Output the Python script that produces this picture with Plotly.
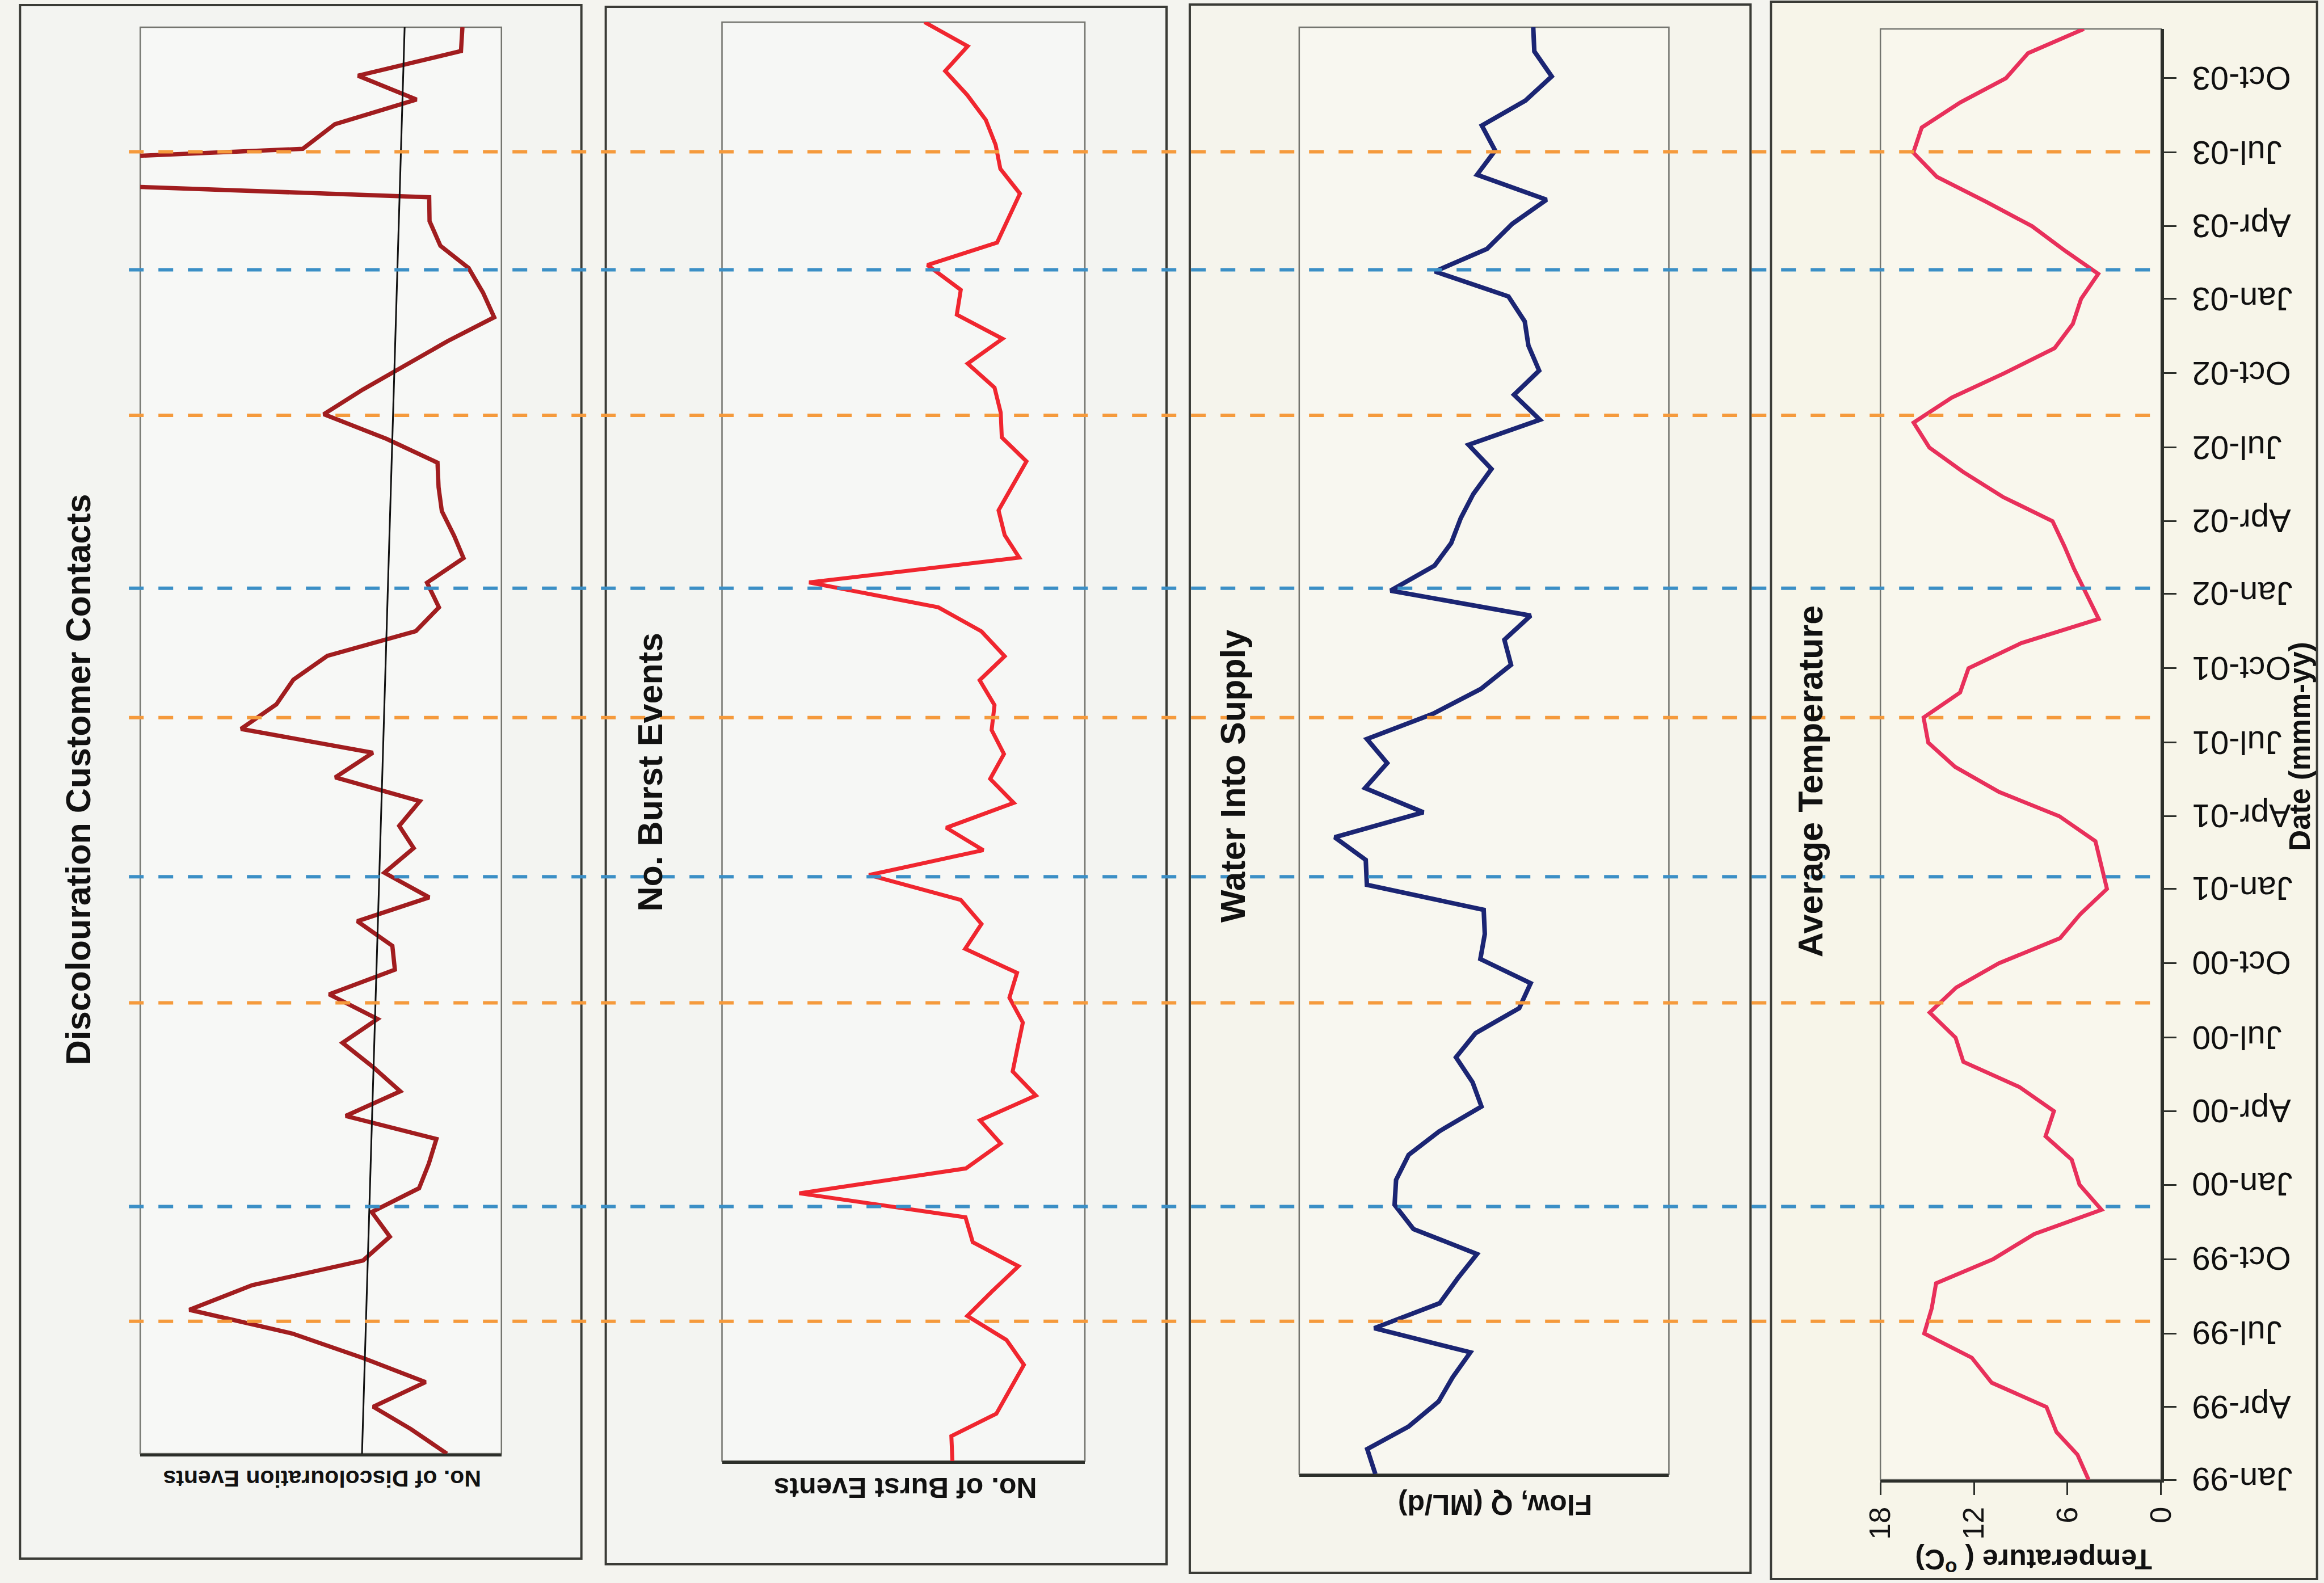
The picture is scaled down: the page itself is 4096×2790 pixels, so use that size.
import plotly.graph_objects as go
import pandas as pd

W, H = 4096, 2790

# Monthly observations, Jan-1999 .. Dec-2003
months = pd.date_range("1999-01-01", "2003-12-01", freq="MS")

discolouration = [15.1, 25.1, 35.5, 21.0, 38.1, 57.8, 86.4, 69.0, 38.3, 30.9,
                  35.9, 22.8, 20.1, 18.0, 43.1, 28.0, 35.4, 44.0, 34.3, 47.7,
                  29.5, 30.2, 39.9, 20.0, 32.4, 24.3, 28.3, 22.6, 46.0, 35.6,
                  72.1, 62.3, 57.6, 48.2, 23.7, 17.3, 20.6, 10.5, 13.1, 16.5,
                  17.4, 17.7, 31.8, 49.2, 38.4, 26.7, 14.9, 2.0, 5.1, 9.1,
                  16.9, 19.9, 20.0, 210.0, 55.0, 46.1, 23.5, 39.7, 11.2, 10.8]
discolouration_trend = [38.6, 26.8]

bursts = [36.5, 36.8, 24.4, 20.6, 16.8, 21.6, 32.4, 25.5, 18.3, 30.9,
          32.9, 78.7, 32.8, 23.2, 28.9, 13.5, 19.9, 18.5, 17.1, 20.8,
          18.7, 33.0, 28.5, 34.2, 59.5, 28.0, 38.2, 19.6, 26.1, 22.3,
          25.7, 24.9, 29.0, 22.1, 28.5, 40.4, 76.0, 18.1, 22.1, 23.8,
          19.9, 16.1, 22.9, 23.2, 24.9, 32.3, 22.7, 35.3, 34.2, 43.4,
          24.2, 21.0, 17.9, 23.3, 24.6, 27.3, 32.4, 38.5, 32.3, 44.2]

flow = [79.4, 81.6, 70.4, 62.3, 58.5, 53.7, 79.7, 62.0, 57.1, 51.9,
        69.1, 74.2, 73.8, 70.4, 62.2, 50.7, 53.1, 57.6, 52.3, 40.5,
        37.4, 51.0, 49.8, 50.1, 81.7, 82.0, 90.4, 66.4, 82.2, 76.2,
        81.7, 63.9, 50.9, 42.7, 44.5, 37.4, 75.3, 63.4, 58.9, 56.3,
        52.9, 48.0, 54.2, 34.9, 41.9, 35.1, 38.0, 39.0, 43.4, 63.3,
        49.2, 42.4, 33.1, 51.9, 47.0, 50.6, 38.8, 31.7, 36.4, 36.7]

temperature = [4.65, 5.36, 6.71, 7.35, 10.86, 12.14, 15.19, 14.71, 14.43, 10.76,
               8.13, 3.82, 5.23, 5.73, 7.41, 6.87, 9.09, 12.68, 13.18, 14.84,
               13.14, 10.40, 6.48, 5.17, 3.47, 3.84, 4.21, 6.53, 10.39, 13.21,
               14.93, 15.23, 12.89, 12.35, 8.98, 4.00, 4.82, 5.58, 6.20, 6.96,
               10.15, 12.70, 14.86, 15.87, 13.41, 10.06, 6.83, 5.66, 5.13, 4.03,
               6.12, 8.28, 11.20, 14.38, 15.89, 15.35, 12.88, 9.95, 8.53, 4.95]
temperature_ticks = [0, 6, 12, 18]

quarter_ticks = pd.date_range("1999-01-01", "2003-10-01", freq="QS")
quarter_labels = [d.strftime("%b-%y") for d in quarter_ticks]

# summer peaks / winter troughs of the temperature record
summer_lines = ["1999-07-16", "2000-08-13", "2001-08-01", "2002-08-10", "2003-07-02"]
winter_lines = ["1999-12-05", "2001-01-16", "2002-01-08", "2003-02-06"]

titles = ["Discolouration Customer Contacts", "No. Burst Events",
          "Water Into Supply", "Average Temperature"]
axis_titles = ["No. of Discolouration Events", "No. of Burst Events",
               "Flow, Q (ML/d)", "Temperature ( <sup>o</sup>C)"]

FONT = "Liberation Sans, Arial, sans-serif"
DARK = "#2c2f2a"


def sx(p):
    """horizontal pixel -> paper fraction (slightly spread about the centre)"""
    return (2048 + (p - 2048) * 1.0137) / W


def sy(p):
    return 1 - p / H


# pixel geometry of the four stacked chart boxes
outer_boxes = [(33, 9, 1023, 2747), (1066, 12, 2055, 2757),
               (2096, 8, 3085, 2772), (3121, 3, 4084, 2783)]
inner_boxes = [(245, 48, 882, 2562), (1271, 39, 1911, 2575),
               (2289, 48, 2941, 2598), (3314, 51, 3809, 2608)]
outer_fill = ["#f3f4f1", "#f3f4f1", "#f5f4ec", "#f7f5e9"]
inner_fill = ["#f7f8f6", "#f6f7f5", "#f8f7f0", "#f9f7ed"]

series = [discolouration, bursts, flow, temperature]
colors = ["#a11d1f", "#f0262f", "#1b2573", "#e8305b"]
widths = [7.5, 7, 8, 7]
x_ranges = [[100, 0], [100, 0], [100, 0], [18, 0]]

title_pos = [(136, 1374), (1144, 1361), (2172, 1368), (3191, 1377)]
axis_title_pos = [(566, 2606), (1594, 2622), (2634, 2652), (3584, 2752)]
axis_title_size = [41, 50, 50, 50]

fig = go.Figure()
shapes = []
annotations = []
layout = dict(width=W, height=H, margin=dict(l=0, r=0, t=0, b=0),
              paper_bgcolor="#f4f4ef", plot_bgcolor="rgba(0,0,0,0)",
              showlegend=False, font=dict(family=FONT, color="#111"))

for i in range(4):
    n = "" if i == 0 else str(i + 1)
    xa, ya = "x" + n, "y" + n
    ox0, oy0, ox1, oy1 = outer_boxes[i]
    ix0, iy0, ix1, iy1 = inner_boxes[i]

    shapes.append(dict(type="rect", xref="paper", yref="paper", layer="below",
                       x0=sx(ox0), x1=sx(ox1), y0=sy(oy1), y1=sy(oy0),
                       fillcolor=outer_fill[i], line=dict(color="#3a3b36", width=4)))
    shapes.append(dict(type="rect", xref="paper", yref="paper", layer="below",
                       x0=sx(ix0), x1=sx(ix1), y0=sy(iy1), y1=sy(iy0),
                       fillcolor=inner_fill[i], line=dict(color="#74756f", width=2.5)))

    fig.add_trace(go.Scatter(x=series[i], y=months, mode="lines",
                             line=dict(color=colors[i], width=widths[i]),
                             xaxis=xa, yaxis=ya, hoverinfo="skip"))

    is_temp = i == 3
    layout["xaxis" + n] = dict(
        domain=[sx(ix0), sx(ix1)], range=x_ranges[i], anchor=ya,
        showgrid=False, zeroline=False, showline=True, linecolor=DARK, linewidth=5,
        ticks="outside" if is_temp else "", ticklen=22, tickwidth=3, tickcolor=DARK,
        tickvals=temperature_ticks if is_temp else None,
        showticklabels=is_temp, tickangle=-90,
        tickfont=dict(size=52, color="#141414", family=FONT))
    layout["yaxis" + n] = dict(
        domain=[sy(iy1), sy(iy0)], type="date",
        range=[months[0], months[-1]], anchor=xa,
        side="right", showgrid=False, zeroline=False,
        showline=is_temp, linecolor=DARK, linewidth=5,
        ticks="outside" if is_temp else "", ticklen=22, tickwidth=3, tickcolor=DARK,
        tickvals=list(quarter_ticks) if is_temp else None,
        showticklabels=False)

    annotations.append(dict(text="<b>%s</b>" % titles[i],
                            x=sx(title_pos[i][0]), y=sy(title_pos[i][1]),
                            xref="paper", yref="paper", xanchor="center", yanchor="middle",
                            textangle=-90, showarrow=False,
                            font=dict(size=61, color="#111", family=FONT)))
    annotations.append(dict(text="<b>%s</b>" % axis_titles[i],
                            x=sx(axis_title_pos[i][0]), y=sy(axis_title_pos[i][1]),
                            xref="paper", yref="paper", xanchor="center", yanchor="middle",
                            textangle=180, showarrow=False,
                            font=dict(size=axis_title_size[i], color="#111", family=FONT)))

# linear trend through the discolouration series
fig.add_trace(go.Scatter(x=discolouration_trend, y=[months[0], months[-1]], mode="lines",
                         line=dict(color="#111", width=3), xaxis="x", yaxis="y",
                         hoverinfo="skip"))

# seasonal reference lines running across all four panels
for d in summer_lines:
    shapes.append(dict(type="line", xref="paper", yref="y4", x0=sx(225), x1=sx(3801),
                       y0=d, y1=d, layer="above",
                       line=dict(color="#f59a3c", width=6, dash="26px,26px")))
for d in winter_lines:
    shapes.append(dict(type="line", xref="paper", yref="y4", x0=sx(225), x1=sx(3801),
                       y0=d, y1=d, layer="above",
                       line=dict(color="#3b8fc6", width=6, dash="26px,26px")))

# date labels, printed upside-down beside the temperature date axis
for d, lab in zip(quarter_ticks, quarter_labels):
    annotations.append(dict(text=lab, x=sx(3862), y=d, xref="paper", yref="y4",
                            xanchor="left", yanchor="middle", textangle=180,
                            showarrow=False, font=dict(size=58, color="#101010", family=FONT)))

annotations.append(dict(text="<b>Date (mmm-yy)</b>", x=sx(4054), y=sy(1316),
                        xref="paper", yref="paper", xanchor="center", yanchor="middle",
                        textangle=-90, showarrow=False,
                        font=dict(size=51, color="#111", family=FONT)))

layout["shapes"] = shapes
layout["annotations"] = annotations
fig.update_layout(**layout)

fig.write_html("out.html", config={"displayModeBar": False})
